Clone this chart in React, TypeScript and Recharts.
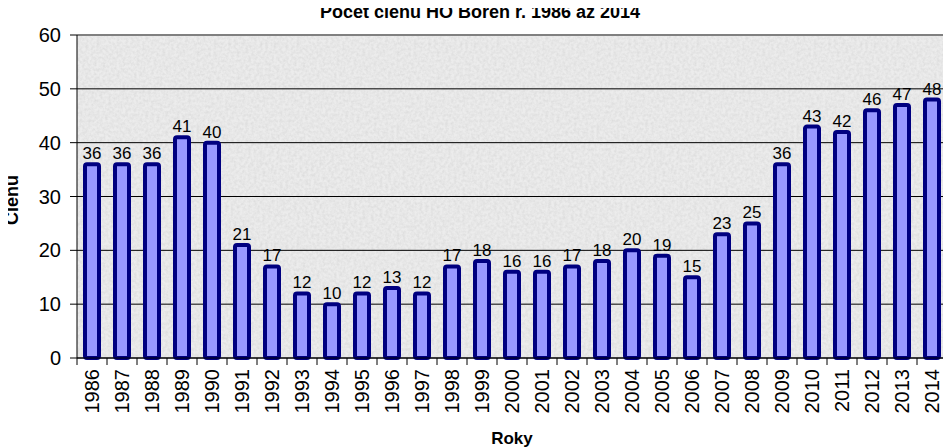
import React from "react";
import { Bar, BarChart, CartesianGrid, LabelList, ReferenceLine, XAxis, YAxis } from "recharts";

const years = [
  "1986", "1987", "1988", "1989", "1990", "1991", "1992", "1993", "1994", "1995",
  "1996", "1997", "1998", "1999", "2000", "2001", "2002", "2003", "2004", "2005",
  "2006", "2007", "2008", "2009", "2010", "2011", "2012", "2013", "2014",
];
const members = [
  36, 36, 36, 41, 40, 21, 17, 12, 10, 12, 13, 12, 17, 18, 16, 16, 17, 18, 20, 19,
  15, 23, 25, 36, 43, 42, 46, 47, 48,
];
const yTicks = [0, 10, 20, 30, 40, 50, 60];

const data = years.map((y, i) => ({ year: y, count: members[i] }));

const FONT = "Arial, 'Liberation Sans', sans-serif";
const BAND = 870 / years.length;

function YearTick(props: any) {
  const { x, y, payload, index } = props;
  const last = index === years.length - 1;
  return (
    <g>
      <line x1={x - BAND / 2} y1={y - 8} x2={x - BAND / 2} y2={y - 1} stroke="#000" />
      {last && <line x1={x + BAND / 2} y1={y - 8} x2={x + BAND / 2} y2={y - 1} stroke="#000" />}
      <text
        x={x}
        y={y + 3}
        transform={`rotate(-90 ${x} ${y + 3})`}
        textAnchor="end"
        dominantBaseline="central"
        fontSize={20}
        fontFamily={FONT}
        fill="#000"
      >
        {payload.value}
      </text>
    </g>
  );
}

export default function App() {
  return (
    <div style={{ margin: "-8px 0 0 -8px", width: 951, height: 448, position: "relative", background: "#fff" }}>
      <svg width={0} height={0} style={{ position: "absolute" }}>
        <defs>
          <filter id="noise" x="0" y="0" width="100%" height="100%">
            <feTurbulence type="fractalNoise" baseFrequency="0.35" numOctaves={3} seed={4} />
            <feColorMatrix
              type="matrix"
              values="0 0 0 0 0.6  0 0 0 0 0.6  0 0 0 0 0.6  0 0 0 0.8 -0.25"
            />
            <feComposite in2="SourceGraphic" operator="in" />
          </filter>
          <pattern id="tex" patternUnits="userSpaceOnUse" width={200} height={200}>
            <rect width={200} height={200} fill="#ececec" />
            <rect width={200} height={200} fill="#ececec" filter="url(#noise)" />
          </pattern>
        </defs>
      </svg>
      <BarChart
        width={951}
        height={448}
        data={data}
        margin={{ top: 35, right: 4, bottom: 26, left: 0 }}
        barCategoryGap={0}
      >
        <CartesianGrid vertical={false} stroke="#000" fill="url(#tex)" fillOpacity={1} />
        <XAxis
          dataKey="year"
          interval={0}
          tickLine={false}
          axisLine={{ stroke: "#000" }}
          tick={<YearTick />}
          height={64}
          label={{
            value: "Roky",
            position: "insideBottom",
            offset: -22,
            fontSize: 17,
            fontWeight: "bold",
            fontFamily: FONT,
            fill: "#000",
          }}
        />
        <YAxis
          width={77}
          domain={[0, 60]}
          ticks={yTicks}
          interval={0}
          tickSize={7}
          tickMargin={9}
          axisLine={{ stroke: "#000" }}
          tickLine={{ stroke: "#000" }}
          tick={{ fontSize: 20, fontFamily: FONT, fill: "#000" }}
        />
        <YAxis
          yAxisId="r"
          orientation="right"
          width={0}
          domain={[0, 60]}
          tick={false}
          tickLine={false}
          axisLine={{ stroke: "#808080", strokeWidth: 2 }}
        />
        <ReferenceLine y={60} stroke="#808080" strokeWidth={2} />
        <Bar
          dataKey="count"
          fill="#9999ff"
          stroke="#000080"
          strokeWidth={4}
          barSize={14}
          radius={2}
          isAnimationActive={false}
        >
          <LabelList
            dataKey="count"
            position="top"
            offset={5}
            fontSize={17}
            fontFamily={FONT}
            fill="#000"
          />
        </Bar>
      </BarChart>
      <div
        style={{
          position: "absolute",
          top: 0,
          left: 480,
          transform: "translateX(-50%)",
          fontFamily: FONT,
          fontWeight: "bold",
          fontSize: 18,
          lineHeight: "24px",
          whiteSpace: "nowrap",
          zIndex: 2,
        }}
      >
        Počet členů HO Bořeň r. 1986 až 2014
      </div>
      <div
        style={{
          position: "absolute",
          left: 12,
          top: 200,
          transform: "translate(-50%, -50%) rotate(-90deg)",
          fontFamily: FONT,
          fontWeight: "bold",
          fontSize: 18,
          whiteSpace: "nowrap",
          zIndex: 2,
        }}
      >
        Členů
      </div>
    </div>
  );
}
